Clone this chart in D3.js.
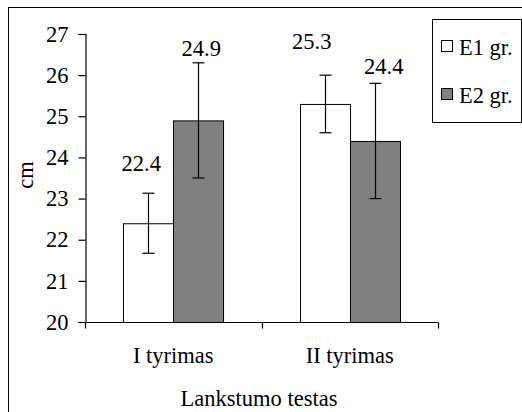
<!DOCTYPE html>
<html>
<head>
<meta charset="utf-8">
<script src="https://cdn.jsdelivr.net/npm/d3@7/dist/d3.min.js"></script>
<style>
  html, body { margin: 0; padding: 0; background: #fff; }
  svg { display: block; }
  text { font-family: "Liberation Serif", "Times New Roman", serif; fill: #000; }
</style>
</head>
<body>
<svg id="chart" width="522" height="412"></svg>
<script>
// Flexibility test results (cm), two measurements, two groups
const categories = ["I tyrimas", "II tyrimas"];
const seriesNames = ["E1 gr.", "E2 gr."];
const e1Values = [22.4, 25.3];
const e2Values = [24.9, 24.4];
const e1Errors = [0.73, 0.7];
const e2Errors = [1.4, 1.4];
const yTicks = [20, 21, 22, 23, 24, 25, 26, 27];
const xTitle = "Lankstumo testas";
const yTitle = "cm";

const seriesFill = ["#ffffff", "#808080"];
const fontSize = 22.5;

const svg = d3.select("#chart");
const plot = { left: 85, right: 438, top: 34, bottom: 322 };

// Chart area frame (extends past the right and bottom edges)
svg.append("rect")
  .attr("x", 8.5).attr("y", 7.5)
  .attr("width", 530).attr("height", 420)
  .attr("fill", "#fff").attr("stroke", "#000").attr("stroke-width", 1);

const y = d3.scaleLinear().domain([20, 27]).range([plot.bottom, plot.top]);
const x0 = d3.scaleBand().domain(categories).range([plot.left, plot.right]).paddingInner(0).paddingOuter(0);
const bw = x0.bandwidth();
const gapFrac = 0.433;
const x1 = d3.scaleBand().domain(seriesNames)
  .range([bw * gapFrac / 2, bw - bw * gapFrac / 2]).padding(0);

const rows = [];
categories.forEach((c, i) => {
  rows.push({ cat: c, s: seriesNames[0], v: e1Values[i], e: e1Errors[i], k: 0 });
  rows.push({ cat: c, s: seriesNames[1], v: e2Values[i], e: e2Errors[i], k: 1 });
});

// Bars
svg.append("g").selectAll("rect").data(rows).join("rect")
  .attr("x", d => Math.round(x0(d.cat) + x1(d.s)) + 0.5)
  .attr("y", d => y(d.v) + 0.5)
  .attr("width", x1.bandwidth())
  .attr("height", d => y(20) - y(d.v))
  .attr("fill", d => seriesFill[d.k])
  .attr("stroke", "#000").attr("stroke-width", 1);

// Error bars
const eb = svg.append("g").attr("stroke", "#000").attr("stroke-width", 1.2);
rows.forEach(d => {
  const cx = Math.round(x0(d.cat) + x1(d.s) + x1.bandwidth() / 2) + 0.5;
  const yt = y(d.v + d.e), yb = y(d.v - d.e);
  eb.append("line").attr("x1", cx).attr("x2", cx).attr("y1", yt).attr("y2", yb);
  eb.append("line").attr("x1", cx - 6).attr("x2", cx + 6).attr("y1", yt).attr("y2", yt);
  eb.append("line").attr("x1", cx - 6).attr("x2", cx + 6).attr("y1", yb).attr("y2", yb);
});

// Value labels, placed above the error bars
const labelNudge = [[-7, -22], [3, -7], [-13, -26], [9, -9]];
svg.append("g").selectAll("text").data(rows).join("text")
  .attr("x", (d, i) => x0(d.cat) + x1(d.s) + x1.bandwidth() / 2 + labelNudge[i][0])
  .attr("y", (d, i) => y(d.v + d.e) + labelNudge[i][1])
  .attr("text-anchor", "middle")
  .attr("font-size", fontSize)
  .text(d => d.v.toFixed(1));

// Y axis
const yAxis = svg.append("g").attr("transform", `translate(${plot.left + 0.5},0)`)
  .call(d3.axisLeft(y).tickValues(yTicks).tickSize(7).tickPadding(10).tickFormat(d3.format("d")));
yAxis.select(".domain").attr("stroke", "#000").attr("stroke-width", 1.2);
yAxis.selectAll(".tick line").attr("stroke", "#000").attr("stroke-width", 1.2);
yAxis.selectAll(".tick text")
  .attr("font-family", "Liberation Serif, Times New Roman, serif")
  .attr("font-size", fontSize).attr("fill", "#000");

// X axis: ticks at category boundaries, labels at centers
const xAxisG = svg.append("g").attr("transform", `translate(0,${plot.bottom + 0.5})`);
xAxisG.append("line").attr("x1", plot.left).attr("x2", plot.right)
  .attr("stroke", "#000").attr("stroke-width", 1.2);
const bounds = categories.map(c => x0(c)).concat([x0(categories[categories.length - 1]) + bw]);
xAxisG.selectAll("line.tk").data(bounds).join("line").attr("class", "tk")
  .attr("x1", d => Math.round(d) + 0.5).attr("x2", d => Math.round(d) + 0.5)
  .attr("y1", 0).attr("y2", 6)
  .attr("stroke", "#000").attr("stroke-width", 1.2);
xAxisG.selectAll("text").data(categories).join("text")
  .attr("x", d => x0(d) + bw / 2)
  .attr("y", 40)
  .attr("text-anchor", "middle")
  .attr("font-size", fontSize)
  .text(d => d);

// Axis titles
svg.append("text")
  .attr("x", 259).attr("y", 406)
  .attr("text-anchor", "middle").attr("font-size", fontSize)
  .text(xTitle);
svg.append("text")
  .attr("transform", "translate(33,175) rotate(-90)")
  .attr("text-anchor", "middle").attr("font-size", fontSize)
  .text(yTitle);

// Legend
const lg = svg.append("g");
lg.append("rect").attr("x", 432.5).attr("y", 19.5).attr("width", 89).attr("height", 103)
  .attr("fill", "#fff").attr("stroke", "#000").attr("stroke-width", 1);
seriesNames.forEach((s, i) => {
  const yy = 40 + i * 48;
  lg.append("rect").attr("x", 441.5).attr("y", yy + 0.5).attr("width", 11).attr("height", 11)
    .attr("fill", seriesFill[i]).attr("stroke", "#000").attr("stroke-width", 1);
  lg.append("text").attr("x", 459).attr("y", yy + 15)
    .attr("font-size", fontSize).text(s);
});
</script>
</body>
</html>
